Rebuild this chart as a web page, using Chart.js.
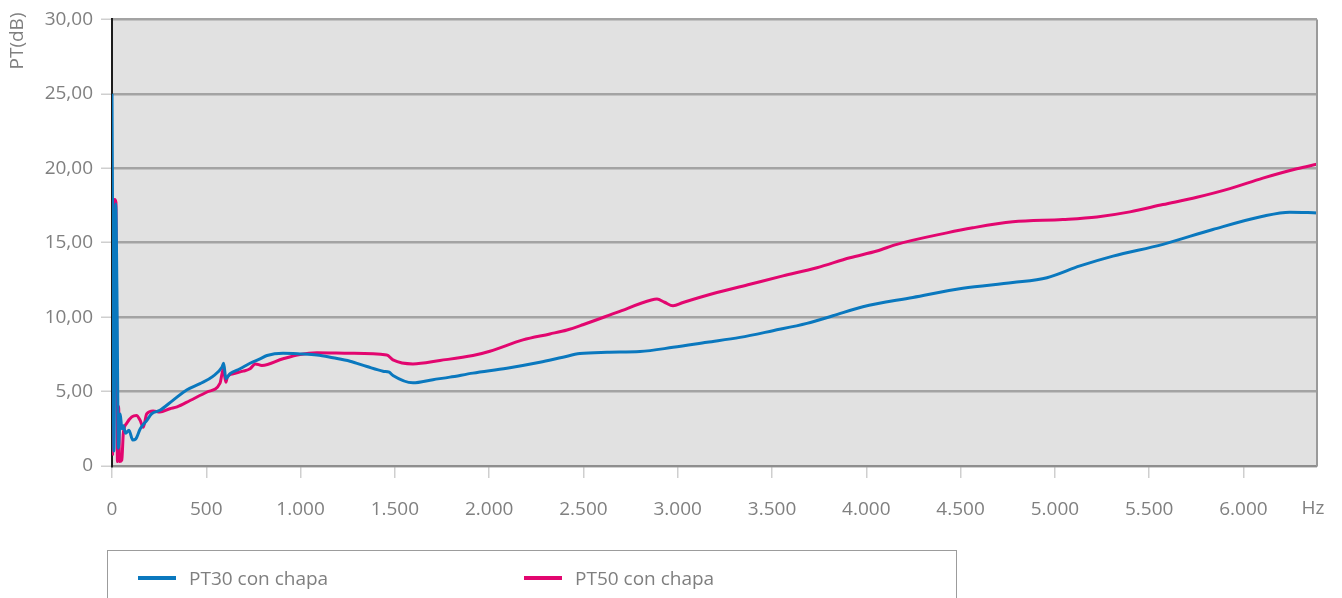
<!DOCTYPE html>
<html>
<head>
<meta charset="utf-8">
<script src="https://cdn.jsdelivr.net/npm/chart.js@4/dist/chart.umd.min.js"></script>
<style>
  body { margin:0; background:#fff; font-family:"Open Sans", sans-serif; }
  #wrap { position:relative; width:1342px; height:598px; overflow:hidden; }
  #legend { position:absolute; left:107px; top:550px; width:850px; height:60px;
    border:1.5px solid #9c9c9c; border-bottom:none; box-sizing:border-box; }
  .item { position:absolute; top:15px; height:24px; line-height:24px; color:#7f7f7f; font-size:19px; }
  .item span.mark { position:absolute; left:0; top:10px; width:38px; height:4px; }
  .item span.txt { position:absolute; left:51px; white-space:nowrap; }
</style>
</head>
<body>
<div id="wrap">
  <canvas id="chart" width="1342" height="598"></canvas>
  <div id="legend"></div>
</div>
<script>
// --- Data ---
const freq30 = [0,4,10,20,26,34,44,52,60,72,90,110,125,150,185,210,254,323,398,467,535,583,592,604,626,679,732,785,822,907,997,1087,1172,1262,1352,1437,1470,1490,1596,1702,1792,1914,2094,2269,2391,2481,2625,2800,2975,3155,3330,3505,3685,3823,3982,4247,4512,4777,4958,5133,5308,5573,5838,6103,6246,6390];
const pt30 = [25,14,1.0,17.6,12,1.2,3.5,2.5,2.7,2.2,2.4,1.74,1.8,2.5,3.07,3.5,3.74,4.41,5.12,5.53,6.02,6.64,6.9,5.86,6.2,6.53,6.9,7.2,7.42,7.57,7.53,7.46,7.27,7.04,6.68,6.37,6.3,6.08,5.59,5.8,5.97,6.24,6.57,6.97,7.31,7.55,7.64,7.69,7.97,8.31,8.64,9.09,9.58,10.09,10.7,11.32,11.94,12.32,12.65,13.44,14.1,14.89,15.89,16.78,17.05,17.0];

const freq50 = [0,3,8,14,21,25,29,35,40,52,60,78,105,130,149,166,184,218,254,307,345,414,504,573,590,604,612,642,695,732,760,795,907,997,1087,1262,1457,1490,1596,1739,1914,2004,2179,2322,2413,2497,2678,2860,2890,2930,2975,3028,3208,3383,3558,3738,3913,4056,4162,4427,4565,4777,5042,5223,5398,5573,5753,5928,6103,6283,6390];
const pt50 = [16.8,0.8,12,17.9,17.7,8,0.3,4,0.3,0.4,2.2,2.87,3.3,3.4,3.07,2.6,3.5,3.7,3.63,3.85,3.97,4.4,4.97,5.57,6.5,5.63,6.0,6.2,6.37,6.53,6.86,6.75,7.2,7.49,7.6,7.57,7.46,7.13,6.86,7.09,7.42,7.71,8.47,8.87,9.14,9.49,10.32,11.15,11.21,11.0,10.76,10.98,11.65,12.21,12.77,13.32,13.99,14.44,14.89,15.66,16.0,16.4,16.56,16.73,17.07,17.56,18.05,18.63,19.34,19.97,20.27];

const seriesNames = ['PT30 con chapa','PT50 con chapa'];
const seriesColors = ['#0a78be','#e2066f'];
const xTicks = [0,500,1000,1500,2000,2500,3000,3500,4000,4500,5000,5500,6000];
const xMax = 6390;
const yTicks = [0,5,10,15,20,25,30];
const yTitle = 'PT(dB)';
const xUnit = 'Hz';

const textColor = '#808080';
const font = {family:'"Open Sans", sans-serif', size:19};

function toPoints(xs, ys){ return xs.map((x,i)=>({x:x, y:ys[i]})); }
function fmtThousands(v){ return String(v).replace(/\B(?=(\d{3})+(?!\d))/g,'.'); }

// plot background, right border, axis title and unit
const decor = {
  id:'decor',
  beforeDraw(chart){
    const a = chart.chartArea, c = chart.ctx;
    c.save();
    c.fillStyle = '#e1e1e1';
    c.fillRect(a.left, a.top, a.right-a.left, a.bottom-a.top);
    c.restore();
  },
  afterDraw(chart){
    const a = chart.chartArea, c = chart.ctx;
    c.save();
    c.strokeStyle = '#9a9a9a';
    c.lineWidth = 2;
    c.beginPath();
    c.moveTo(a.right, a.top); c.lineTo(a.right, a.bottom);
    c.stroke();
    c.fillStyle = textColor;
    c.font = '19px "Open Sans", sans-serif';
    c.textAlign = 'center';
    c.textBaseline = 'middle';
    c.fillText(xUnit, 1313, 509);
    c.translate(18, 41);
    c.rotate(-Math.PI/2);
    c.fillText(yTitle, 0, 0);
    c.restore();
  }
};

const datasets = [pt30, pt50].map((ys,i)=>({
  label: seriesNames[i],
  data: toPoints(i===0 ? freq30 : freq50, ys),
  borderColor: seriesColors[i],
  backgroundColor: seriesColors[i],
  borderWidth: 3,
  pointRadius: 0,
  cubicInterpolationMode: 'monotone',
  fill: false
}));

new Chart(document.getElementById('chart'), {
  type:'line',
  data:{ datasets: datasets },
  options:{
    responsive:false,
    animation:false,
    layout:{ padding:{ top:17, right:25, left:0, bottom:0 } },
    plugins:{ legend:{display:false}, tooltip:{enabled:false} },
    scales:{
      x:{
        type:'linear', min:0, max:xMax,
        afterFit: s => { s.height = 132; },
        afterBuildTicks: s => { s.ticks = xTicks.map(v=>({value:v})); },
        grid:{ drawOnChartArea:false, drawTicks:true, tickLength:12, color:'#cfcfcf', tickColor:'#cfcfcf', lineWidth:1.5 },
        border:{ color:'#8e8e8e', width:2 },
        ticks:{ color:textColor, font:font, padding:20, maxRotation:0, autoSkip:false,
          callback: v => fmtThousands(v) }
      },
      y:{
        min:0, max:30,
        afterFit: s => { s.width = 112; },
        afterBuildTicks: s => { s.ticks = yTicks.map(v=>({value:v})); },
        grid:{ color:'#a3a3a3', lineWidth:2.5, tickColor:'#cfcfcf', tickWidth:1.5, tickLength:11 },
        border:{ color:'#1c1c1c', width:2 },
        ticks:{ color:textColor, font:font, padding:8,
          callback: v => v===0 ? '0' : v.toFixed(2).replace('.',',') }
      }
    }
  },
  plugins:[decor]
});

// --- Legend (HTML) ---
const legend = document.getElementById('legend');
const legendLeft = [30, 416];
seriesNames.forEach((name,i)=>{
  const d = document.createElement('div');
  d.className = 'item';
  d.style.left = legendLeft[i] + 'px';
  d.innerHTML = `<span class="mark" style="background:${seriesColors[i]}"></span><span class="txt">${name}</span>`;
  legend.appendChild(d);
});
</script>
</body>
</html>
